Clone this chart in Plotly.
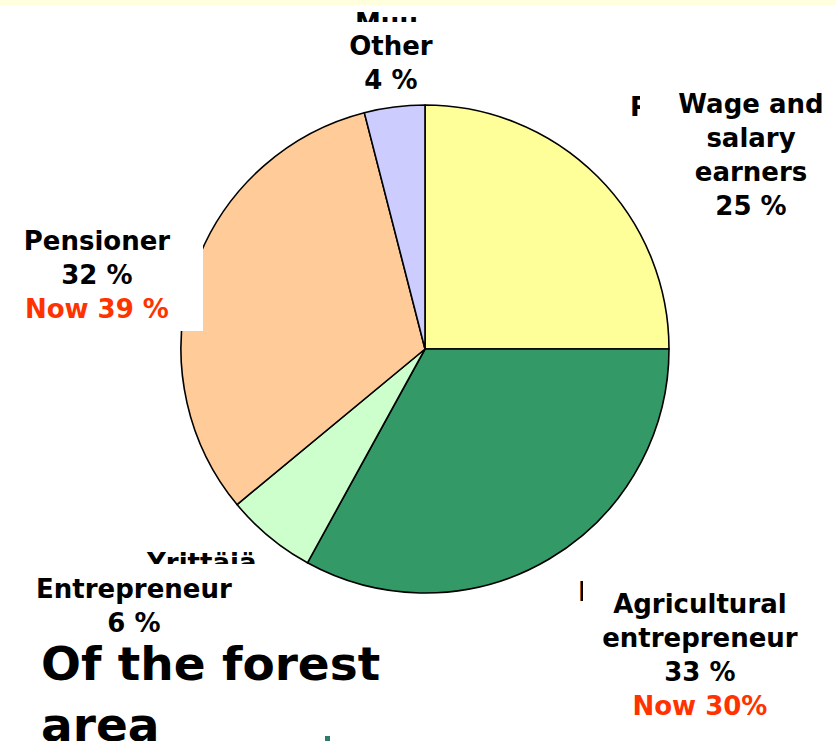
import plotly.graph_objects as go

W, H = 836, 741

# ---- data ----
categories = ["Wage and<br>salary<br>earners", "Agricultural<br>entrepreneur", "Entrepreneur", "Pensioner", "Other"]
finnish_labels = ["Palkansaaja", "Maatalous-", "Yrittäjä", "Muu"]
shares = [25, 33, 6, 32, 4]
now_text = ["", "Now 30%", "", "Now 39 %", ""]
colors = ["#FFFF99", "#339966", "#CCFFCC", "#FFCC99", "#CCCCFF"]
title_text = "Of the forest<br>area"

RED = "#FF3300"
FONT = dict(family="DejaVu Sans", size=26, color="black", weight="bold")


def px(x):
    return x / W


def py(y):
    return 1 - y / H


fig = go.Figure(
    go.Pie(
        labels=[c.replace("<br>", " ") for c in categories],
        values=shares,
        sort=False,
        direction="clockwise",
        rotation=0,
        marker=dict(colors=colors, line=dict(color="black", width=1.6)),
        textinfo="none",
        hoverinfo="none",
        showlegend=False,
        domain=dict(x=[px(181), px(669)], y=[py(593), py(105)]),
    )
)

annotations = []

# original (Finnish) labels, partly covered by the English label boxes
hidden_pos = [
    dict(x=628, y=107, xanchor="left"),   # Palkansaaja
    dict(x=576, y=592, xanchor="left"),   # Maatalous-
    dict(x=201, y=563, xanchor="center"), # Yrittäjä
    dict(x=386, y=23, xanchor="center"),  # Muu
]
for txt, p in zip(finnish_labels, hidden_pos):
    annotations.append(dict(
        text=txt, x=px(p["x"]), y=py(p["y"]), xref="paper", yref="paper",
        xanchor=p["xanchor"], yanchor="middle", showarrow=False, font=FONT,
        align="left",
    ))

# English label boxes (white background)
box_geom = [
    (751, 155, 222, 130),  # wage
    (700, 655, 234, 166),  # agricultural
    (134, 606, 262, 84),   # entrepreneur
    (97, 274.7, 212, 112), # pensioner
    (391, 63, 130, 82),    # other
]
for cat, val, now, (cx, cy, w, h) in zip(categories, shares, now_text, box_geom):
    txt = f"{cat}<br>{val} %"
    if now:
        txt += f"<br><span style='color:{RED}'>{now}</span>"
    annotations.append(dict(
        text=txt, x=px(cx), y=py(cy), xref="paper", yref="paper",
        xanchor="center", yanchor="middle", showarrow=False, font=FONT,
        width=w, height=h, bgcolor="white", borderpad=0, borderwidth=0,
        align="center", valign="middle",
    ))

annotations.append(dict(
    text=title_text, x=px(39), y=py(694), xref="paper", yref="paper",
    xanchor="left", yanchor="middle", showarrow=False, align="left",
    font=dict(family="DejaVu Sans", size=47, color="black", weight="bold"),
))

shapes = [
    dict(type="rect", xref="paper", yref="paper", x0=0, x1=1, y0=py(5), y1=1,
         fillcolor="#FFFFDD", line=dict(width=0), layer="below"),
    dict(type="rect", xref="paper", yref="paper", x0=px(325), x1=px(330), y0=0, y1=py(736),
         fillcolor="#2E7D6B", line=dict(width=0), layer="above"),
]

fig.update_layout(
    width=W, height=H,
    margin=dict(l=0, r=0, t=0, b=0),
    paper_bgcolor="white", plot_bgcolor="white",
    annotations=annotations, shapes=shapes,
)

fig.write_html("out.html", config={"displayModeBar": False})
